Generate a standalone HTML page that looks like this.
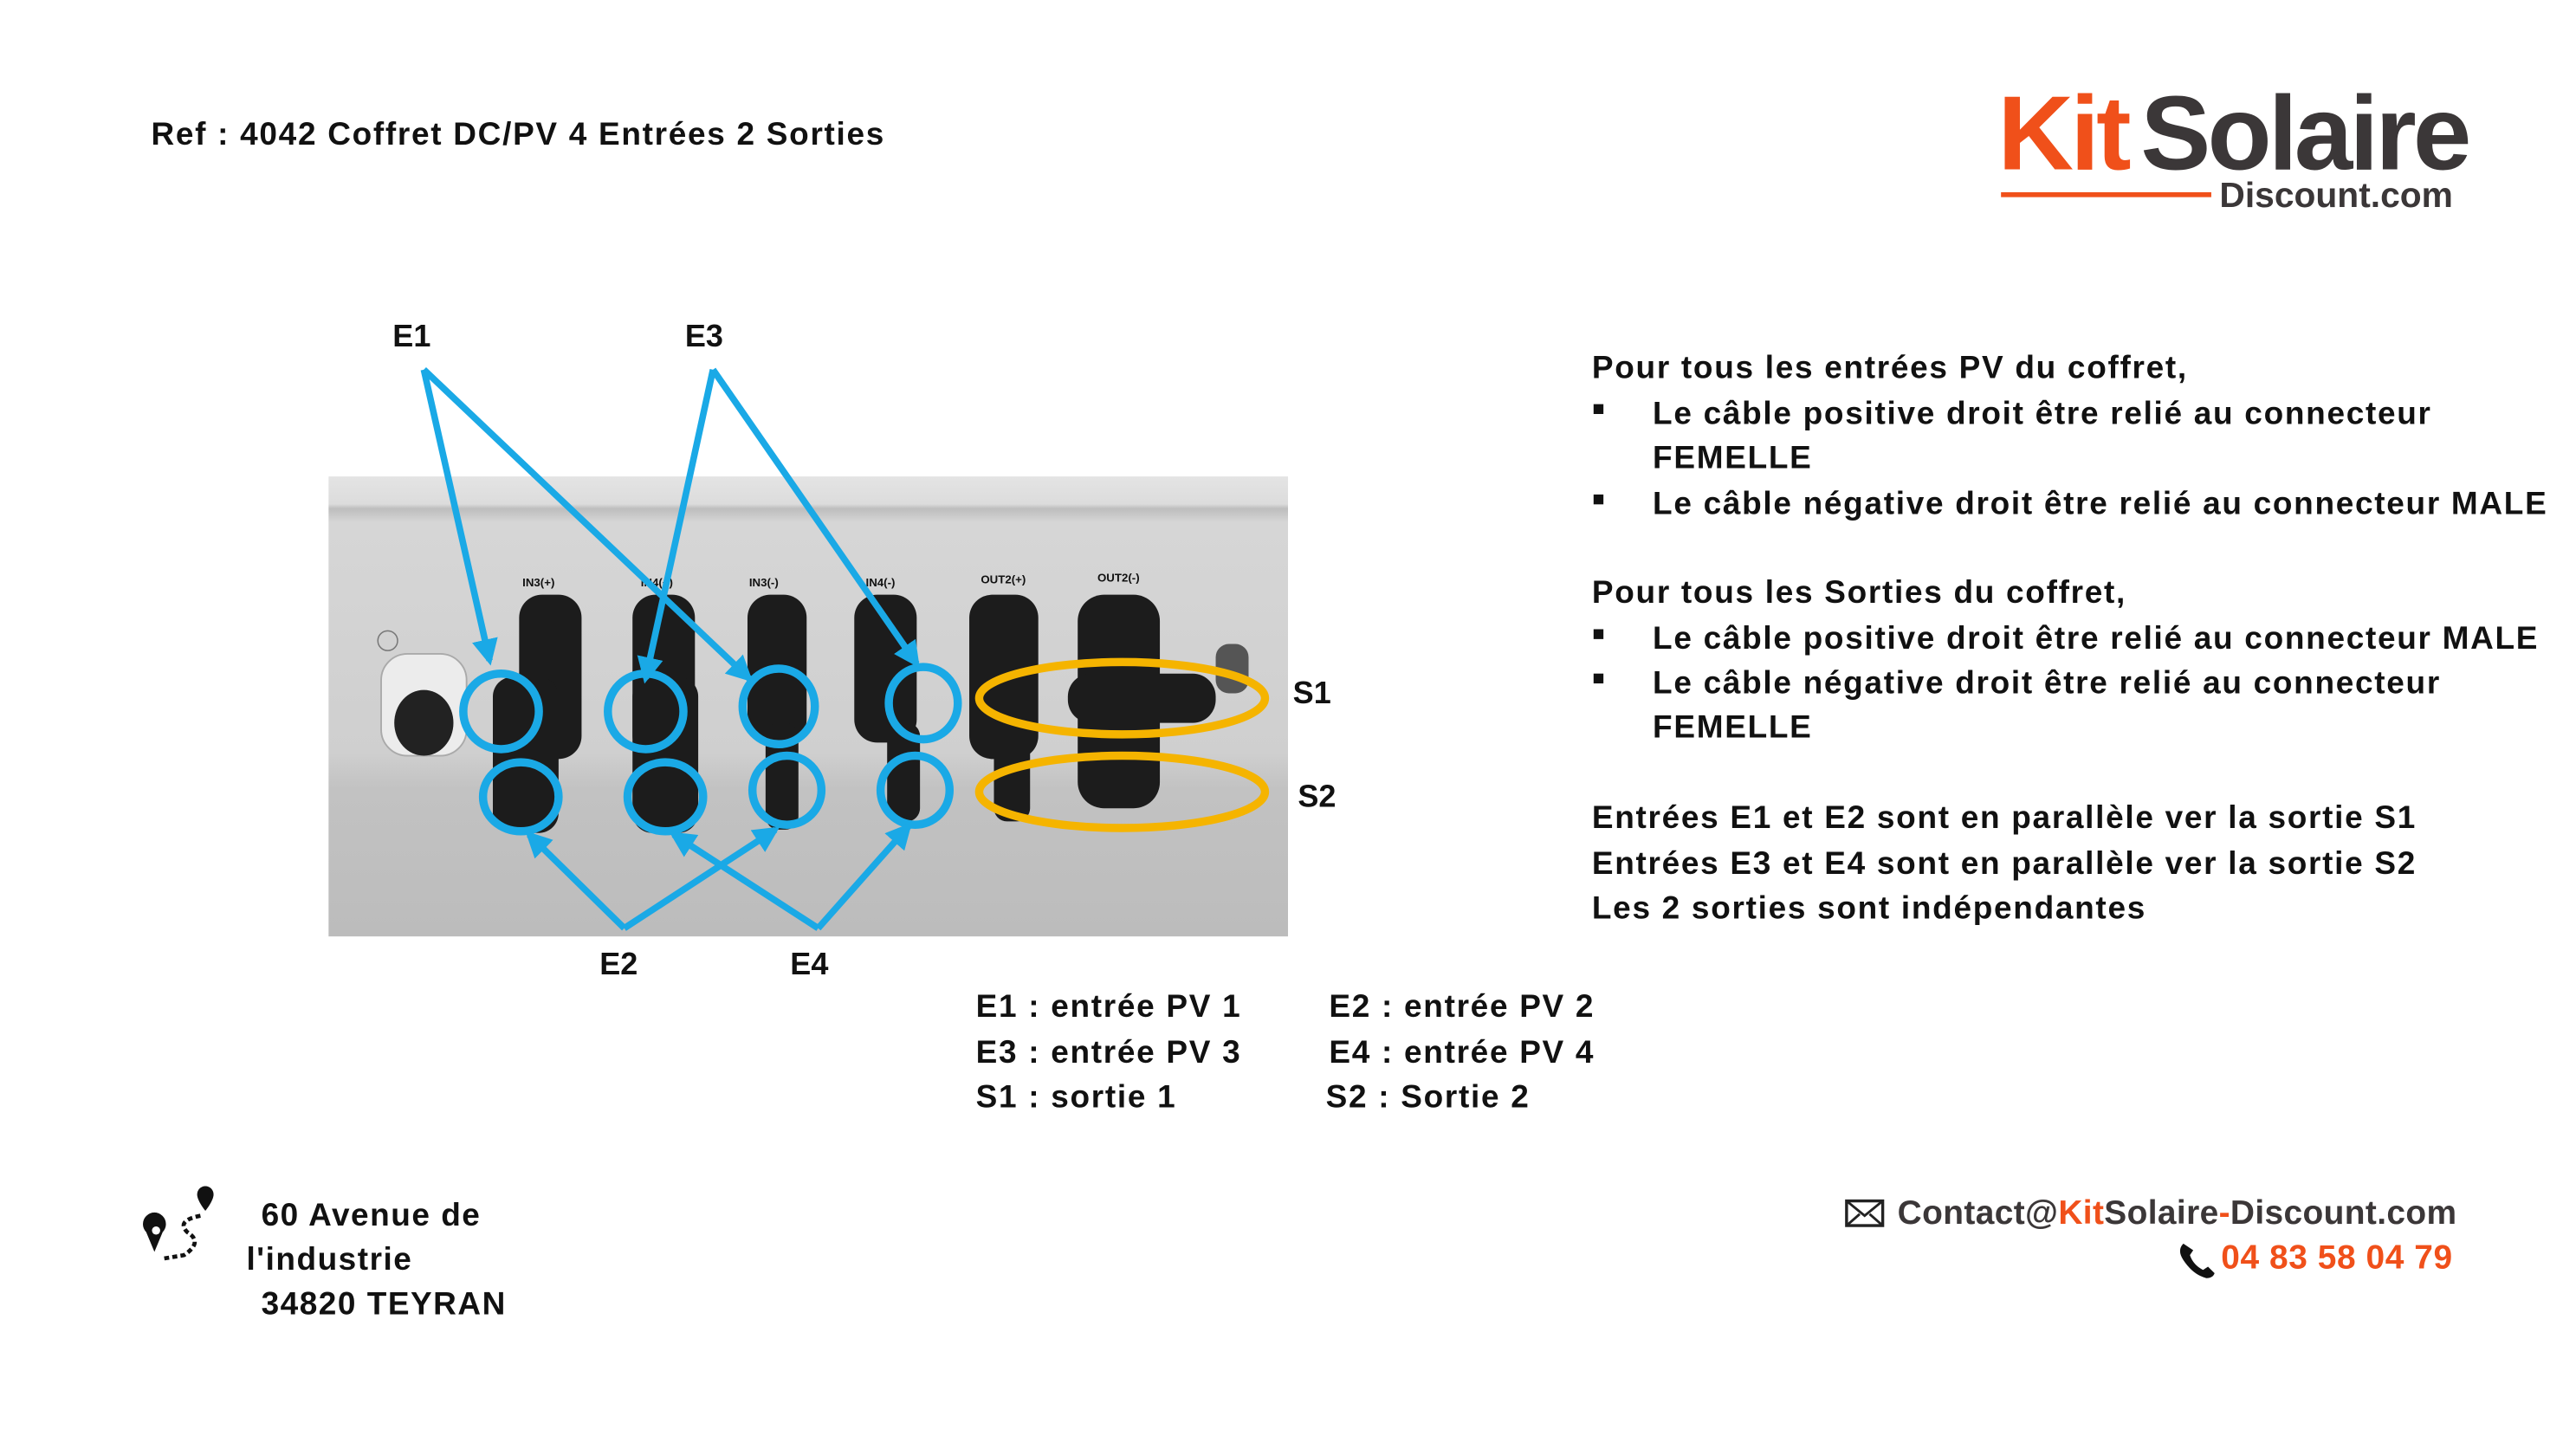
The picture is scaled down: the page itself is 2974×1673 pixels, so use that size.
<!DOCTYPE html>
<html><head><meta charset="utf-8"><style>
html,body{margin:0;padding:0;background:#fff;}
svg{display:block;}
text{font-family:"Liberation Sans",Arial,sans-serif;font-weight:bold;fill:#111;}
</style></head><body>
<svg width="2974" height="1673" viewBox="0 0 1568 882" preserveAspectRatio="none" xmlns="http://www.w3.org/2000/svg">
<defs>
<linearGradient id="pg" x1="0" y1="0" x2="0" y2="1">
<stop offset="0" stop-color="#e4e4e4"/><stop offset="0.06" stop-color="#dcdcdc"/><stop offset="0.07" stop-color="#bdbdbd"/><stop offset="0.1" stop-color="#d6d6d6"/><stop offset="0.6" stop-color="#cfcfcf"/><stop offset="0.68" stop-color="#c2c2c2"/><stop offset="1" stop-color="#bcbcbc"/>
</linearGradient>
<marker id="ab" viewBox="0 0 10 10" refX="8" refY="5" markerWidth="4" markerHeight="4" orient="auto"><path d="M0,0 L10,5 L0,10 z" fill="#1aa9e6"/></marker>
</defs>

<text x="92" y="88" font-size="19.5" letter-spacing="0.9">Ref : 4042 Coffret DC/PV 4 Entrées 2 Sorties</text>

<text x="1216" y="103" font-size="64" style="fill:#f0501a" letter-spacing="-2">Kit</text>
<text x="1303" y="103" font-size="64" style="fill:#3b3738" letter-spacing="-2">Solaire</text>
<rect x="1218" y="117" width="128" height="3" fill="#f0501a"/>
<text x="1351" y="126" font-size="21.5" style="fill:#3b3738">Discount.com</text>

<rect x="200" y="290" width="584" height="280" fill="url(#pg)"/>
<rect x="232" y="398" width="52" height="62" rx="16" fill="#ececec" stroke="#aaa"/>
<ellipse cx="258" cy="440" rx="18" ry="20" fill="#222"/>
<circle cx="236" cy="390" r="6" fill="none" stroke="#777" stroke-width="0.8"/>
<g fill="#1c1c1c">
<rect x="316" y="362" width="38" height="100" rx="14"/><rect x="300" y="412" width="40" height="95" rx="12"/>
<rect x="385" y="362" width="38" height="100" rx="14"/><rect x="385" y="412" width="40" height="95" rx="12"/>
<rect x="455" y="362" width="36" height="90" rx="14"/><rect x="466" y="440" width="20" height="65" rx="8"/>
<rect x="520" y="362" width="38" height="90" rx="14"/><rect x="540" y="440" width="20" height="60" rx="8"/>
<rect x="590" y="362" width="42" height="100" rx="14"/><rect x="605" y="440" width="22" height="60" rx="8"/>
<rect x="656" y="362" width="50" height="130" rx="16"/><rect x="650" y="410" width="90" height="30" rx="14"/>
<rect x="740" y="392" width="20" height="30" rx="8" fill="#555"/>
</g>
<g font-size="7" style="fill:#777;font-weight:normal;font-family:'Liberation Serif',serif">
<text x="318" y="357">IN3(+)</text><text x="390" y="357">IN4(+)</text><text x="456" y="357">IN3(-)</text><text x="527" y="357">IN4(-)</text><text x="597" y="355">OUT2(+)</text><text x="668" y="354">OUT2(-)</text>
</g>

<g fill="none" stroke="#1aa9e6" stroke-width="5">
<ellipse cx="305" cy="433" rx="23" ry="23"/><ellipse cx="393" cy="433" rx="23" ry="23"/><ellipse cx="474" cy="430" rx="22" ry="23"/><ellipse cx="562" cy="428" rx="21" ry="22"/>
<ellipse cx="317" cy="485" rx="23" ry="21"/><ellipse cx="405" cy="485" rx="23" ry="21"/><ellipse cx="479" cy="481" rx="21" ry="21"/><ellipse cx="557" cy="481" rx="21" ry="21"/>
</g>
<g fill="none" stroke="#f5b400" stroke-width="5">
<ellipse cx="683" cy="425" rx="87" ry="22"/><ellipse cx="683" cy="482" rx="87" ry="22"/>
</g>
<g stroke="#1aa9e6" stroke-width="4" fill="none" marker-end="url(#ab)">
<line x1="258" y1="225" x2="298" y2="402"/><line x1="258" y1="225" x2="456" y2="413"/>
<line x1="434" y1="225" x2="393" y2="413"/><line x1="434" y1="225" x2="558" y2="404"/>
<line x1="380" y1="565" x2="322" y2="508"/><line x1="380" y1="565" x2="472" y2="505"/>
<line x1="498" y1="565" x2="410" y2="508"/><line x1="498" y1="565" x2="553" y2="503"/>
</g>
<g font-size="19">
<text x="239" y="211">E1</text><text x="417" y="211">E3</text><text x="365" y="593">E2</text><text x="481" y="593">E4</text>
<text x="787" y="428">S1</text><text x="790" y="491">S2</text>
</g>

<g font-size="19.5" letter-spacing="0.9">
<text x="969" y="230">Pour tous les entrées PV du coffret,</text>
<text x="1006" y="258">Le câble positive droit être relié au connecteur</text>
<text x="1006" y="285">FEMELLE</text>
<text x="1006" y="313">Le câble négative droit être relié au connecteur MALE</text>
<text x="969" y="367">Pour tous les Sorties du coffret,</text>
<text x="1006" y="395">Le câble positive droit être relié au connecteur MALE</text>
<text x="1006" y="422">Le câble négative droit être relié au connecteur</text>
<text x="1006" y="449">FEMELLE</text>
<text x="969" y="504">Entrées E1 et E2 sont en parallèle ver la sortie S1</text>
<text x="969" y="532">Entrées E3 et E4 sont en parallèle ver la sortie S2</text>
<text x="969" y="559">Les 2 sorties sont indépendantes</text>
</g>
<g fill="#111"><rect x="970" y="246" width="6" height="6"/><rect x="970" y="301" width="6" height="6"/><rect x="970" y="383" width="6" height="6"/><rect x="970" y="410" width="6" height="6"/></g>

<g font-size="19.5" letter-spacing="0.9">
<text x="594" y="619">E1 : entrée PV 1</text><text x="809" y="619">E2 : entrée PV 2</text>
<text x="594" y="647">E3 : entrée PV 3</text><text x="809" y="647">E4 : entrée PV 4</text>
<text x="594" y="674">S1 : sortie 1</text><text x="807" y="674">S2 : Sortie 2</text>
</g>

<g>
<path d="M94,762 l-5,-12 a7,7 0 1,1 10,0 z" fill="#111"/>
<circle cx="94" cy="744" r="6" fill="#111"/>
<circle cx="95" cy="749" r="2.5" fill="#fff"/>
<path d="M125,722 a5,5 0 0,1 5,5 c0,4 -5,10 -5,10 c0,0 -5,-6 -5,-10 a5,5 0 0,1 5,-5 z" fill="#111"/>
<path d="M122,740 q-15,3 -8,10 q10,6 -2,14 l-12,2" fill="none" stroke="#111" stroke-width="2.5" stroke-dasharray="3,2"/>
</g>
<g font-size="19.5" letter-spacing="0.8">
<text x="159" y="746">60 Avenue de</text><text x="150" y="773">l'industrie</text><text x="159" y="800">34820 TEYRAN</text>
</g>

<rect x="1124" y="731" width="22" height="15" fill="none" stroke="#222" stroke-width="1.8"/>
<path d="M1124,731 l11,9 l11,-9 M1124,746 l8,-7 M1146,746 l-8,-7" fill="none" stroke="#222" stroke-width="1.5"/>
<text x="1155" y="745" font-size="20.5" letter-spacing="0.2" style="fill:#3b3738">Contact@<tspan style="fill:#f0501a">Kit</tspan>Solaire<tspan style="fill:#f0501a">-</tspan>Discount.com</text>
<path d="M1329,757 q-4,4 0,10 q6,9 14,11 q4,0 5,-3 l-4,-4 l-3,2 q-6,-3 -8,-9 l2,-3 z" fill="#111"/>
<text x="1352" y="772" font-size="20.5" letter-spacing="0.3" style="fill:#f0501a">04 83 58 04 79</text>
</svg>
</body></html>
